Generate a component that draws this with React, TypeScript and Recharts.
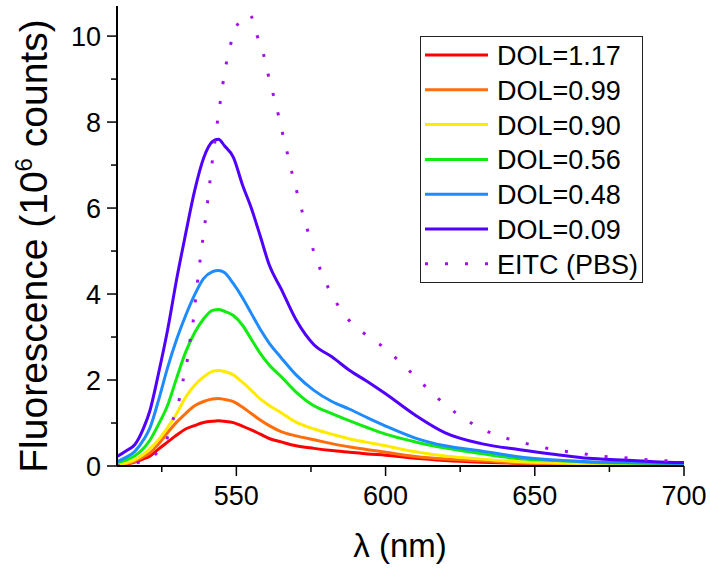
import React from "react";
import { LineChart, Line, XAxis, YAxis, Legend } from "recharts";

// wavelength grid (nm) shared by the DOL spectra
const wavelengths = [
  510, 513, 516, 519, 521, 524, 527, 530, 533, 536, 539, 542, 544, 546, 549, 552, 555, 558, 561, 565,
  570, 576, 582, 588, 594, 600, 610, 620, 632, 645, 657, 668, 680, 690, 700,
];

// fluorescence, 10^6 counts
const dol117 = [
  0.02, 0.04, 0.09, 0.17, 0.23, 0.4, 0.56, 0.72, 0.86, 0.94, 1.01, 1.04, 1.05, 1.04, 1.01, 0.93, 0.84, 0.74, 0.64, 0.56,
  0.47, 0.41, 0.36, 0.32, 0.28, 0.25, 0.18, 0.13, 0.09, 0.06, 0.04, 0.03, 0.02, 0.02, 0.02,
];
const dol099 = [
  0.02, 0.05, 0.11, 0.22, 0.3, 0.52, 0.78, 1.02, 1.22, 1.4, 1.5, 1.56, 1.57, 1.55, 1.5, 1.37, 1.22, 1.07, 0.94, 0.8,
  0.7, 0.61, 0.52, 0.44, 0.38, 0.32, 0.22, 0.16, 0.12, 0.07, 0.05, 0.04, 0.03, 0.02, 0.02,
];
const dol090 = [
  0.03, 0.07, 0.15, 0.28, 0.4, 0.62, 0.9, 1.22, 1.6, 1.88, 2.07, 2.2, 2.22, 2.2, 2.12, 1.95, 1.76, 1.56, 1.41, 1.24,
  1.02, 0.86, 0.74, 0.63, 0.55, 0.47, 0.33, 0.23, 0.16, 0.1, 0.07, 0.05, 0.04, 0.03, 0.03,
];
const dol056 = [
  0.08, 0.14, 0.24, 0.42, 0.6, 0.98, 1.42, 2.05, 2.65, 3.1, 3.42, 3.62, 3.64, 3.6, 3.5, 3.28, 2.95, 2.62, 2.35, 2.08,
  1.72, 1.4, 1.22, 1.05, 0.89, 0.74, 0.56, 0.42, 0.29, 0.17, 0.13, 0.09, 0.07, 0.06, 0.05,
];
const dol048 = [
  0.1, 0.2, 0.34, 0.62, 0.88, 1.55, 2.3, 2.95, 3.5, 3.98, 4.36, 4.52, 4.55, 4.5, 4.24, 3.92, 3.55, 3.18, 2.86, 2.52,
  2.12, 1.76, 1.5, 1.32, 1.12, 0.93, 0.65, 0.47, 0.35, 0.21, 0.14, 0.1, 0.08, 0.07, 0.06,
];
const dol009 = [
  0.22, 0.35, 0.5, 0.9, 1.28, 2.18, 3.18, 4.35, 5.4, 6.4, 7.16, 7.55, 7.6, 7.45, 7.18, 6.55, 6.0, 5.35, 4.68, 4.12,
  3.4, 2.82, 2.54, 2.22, 1.96, 1.68, 1.18, 0.77, 0.52, 0.38, 0.27, 0.18, 0.14, 0.1, 0.08,
];

// EITC in PBS, own wavelength list
const eitcNm = [
  510, 517, 522.5, 527, 529, 531, 532.3, 533.7, 534.6, 535.7, 536.4, 537.2, 538, 538.9, 539.8, 540.6, 541.4, 542.2,
  543.1, 544, 545, 546, 547.4, 549, 552, 554.5, 557, 559.2, 560.7, 562.4, 564.1, 565.6, 567.2, 568.8, 570.5, 572.3,
  574.2, 576.1, 578.5, 581.2, 584.6, 588.4, 593.7, 599.6, 605, 610.1, 615.6, 620.4, 626, 632, 638, 645, 651.6, 658.2,
  665, 671.7, 678.4, 685.2, 692, 700,
];
const eitcVal = [
  0.0, 0.08, 0.25, 0.68, 1.13, 1.59, 2.05, 2.52, 2.98, 3.46, 3.94, 4.41, 4.88, 5.35, 5.82, 6.3, 6.77, 7.24, 7.71, 8.19,
  8.65, 9.14, 9.6, 10.05, 10.4, 10.5, 10.0, 9.55, 9.09, 8.63, 8.16, 7.7, 7.24, 6.77, 6.32, 5.85, 5.4, 4.95, 4.51, 4.09,
  3.68, 3.34, 3.04, 2.75, 2.41, 2.07, 1.7, 1.4, 1.12, 0.87, 0.7, 0.56, 0.45, 0.36, 0.3, 0.23, 0.2, 0.16, 0.13, 0.1,
];

const xTicks = [525, 550, 575, 600, 625, 650, 675, 700];
const yTicks = [0, 1, 2, 3, 4, 5, 6, 7, 8, 9, 10];

const series = [
  { key: "d117", name: "DOL=1.17", color: "#FF0000", values: dol117 },
  { key: "d099", name: "DOL=0.99", color: "#FF6E0A", values: dol099 },
  { key: "d090", name: "DOL=0.90", color: "#FFEA00", values: dol090 },
  { key: "d056", name: "DOL=0.56", color: "#10EC10", values: dol056 },
  { key: "d048", name: "DOL=0.48", color: "#1E8CFF", values: dol048 },
  { key: "d009", name: "DOL=0.09", color: "#5000FF", values: dol009 },
];
const eitc = { key: "eitc", name: "EITC (PBS)", color: "#A010F0" };
const DOTS = "3 17";

const rows = wavelengths.map((nm, i) => {
  const r: Record<string, number> = { nm };
  series.forEach((s) => (r[s.key] = s.values[i]));
  return r;
});
const eitcRows = eitcNm.map((nm, i) => ({ nm, eitc: eitcVal[i] }));

const FONT = '"Liberation Sans", Arial, sans-serif';

const XTick = (props: any) => {
  const { x, y, payload } = props;
  const major = payload.value % 50 === 0;
  return (
    <g>
      <line x1={x} x2={x} y1={y} y2={y + (major ? 10 : 6)} stroke="#000" strokeWidth={1.5} />
      {major && (
        <text x={x} y={y + 39} textAnchor="middle" fontSize={27} fill="#000" fontFamily={FONT}>
          {payload.value}
        </text>
      )}
    </g>
  );
};

const YTick = (props: any) => {
  const { x, y, payload } = props;
  const major = payload.value % 2 === 0;
  return (
    <g>
      <line x1={x} x2={x - (major ? 10 : 6)} y1={y} y2={y} stroke="#000" strokeWidth={1.5} />
      {major && (
        <text x={x - 16} y={y + 10} textAnchor="end" fontSize={27} fill="#000" fontFamily={FONT}>
          {payload.value}
        </text>
      )}
    </g>
  );
};

const LegendBox = () => {
  const items = [
    ...series.map((s) => ({ name: s.name, color: s.color, dash: undefined as string | undefined })),
    { name: eitc.name, color: eitc.color, dash: DOTS },
  ];
  return (
    <div style={{ border: "1.5px solid #222", width: 221, height: 245, background: "#fff", boxSizing: "content-box" }}>
      <svg width={221} height={245}>
        {items.map((it, i) => {
          const cy = 18 + i * 34.8;
          return (
            <g key={it.name}>
              <line x1={4} x2={67} y1={cy} y2={cy} stroke={it.color} strokeWidth={3} strokeDasharray={it.dash} />
              <text x={76} y={cy + 10} fontSize={27} fill="#000" fontFamily={FONT}>
                {it.name}
              </text>
            </g>
          );
        })}
      </svg>
    </div>
  );
};

export default function App() {
  return (
    <div style={{ position: "absolute", left: 0, top: 0, width: 710, height: 570, background: "#fff", fontFamily: FONT }}>
      <LineChart width={710} height={570} data={rows} margin={{ top: 6, right: 26, left: 0, bottom: 0 }}>
        <XAxis
          dataKey="nm"
          type="number"
          domain={[510, 700]}
          allowDataOverflow
          ticks={xTicks}
          interval={0}
          height={104}
          tickSize={0}
          tickMargin={0}
          tick={<XTick />}
          axisLine={{ stroke: "#000", strokeWidth: 2 }}
          label={{
            content: () => (
              <text x={400} y={557} textAnchor="middle" fontSize={33} fill="#000" fontFamily={FONT}>
                λ (nm)
              </text>
            ),
          }}
        />
        <XAxis xAxisId="top" dataKey="nm" type="number" domain={[510, 700]} orientation="top" height={0} tick={false} tickLine={false} axisLine={{ stroke: "#000", strokeWidth: 2 }} />
        <YAxis
          type="number"
          domain={[0, 10.7]}
          allowDataOverflow
          ticks={yTicks}
          interval={0}
          width={117}
          tickSize={0}
          tickMargin={0}
          tick={<YTick />}
          axisLine={{ stroke: "#000", strokeWidth: 2 }}
          label={{
            content: () => (
              <text transform="translate(47,246) rotate(-90)" textAnchor="middle" fontSize={39} fill="#000" fontFamily={FONT}>
                Fluorescence (10
                <tspan dy={-15} fontSize={24}>6</tspan>
                <tspan dy={15}> counts)</tspan>
              </text>
            ),
          }}
        />
        <YAxis yAxisId="right" orientation="right" type="number" domain={[0, 10.7]} width={0} tick={false} tickLine={false} axisLine={{ stroke: "#000", strokeWidth: 2 }} />
        <Legend
          layout="horizontal"
          verticalAlign="middle"
          align="center"
          wrapperStyle={{ left: 420, top: 36, width: 224, height: 248 }}
          content={<LegendBox />}
        />
        {series.map((s) => (
          <Line key={s.key} type="monotone" dataKey={s.key} name={s.name} stroke={s.color} strokeWidth={3} dot={false} isAnimationActive={false} />
        ))}
        <Line
          data={eitcRows}
          type="monotone"
          dataKey="eitc"
          name={eitc.name}
          stroke={eitc.color}
          strokeWidth={3}
          strokeDasharray={DOTS}
          dot={false}
          isAnimationActive={false}
        />
      </LineChart>
    </div>
  );
}
